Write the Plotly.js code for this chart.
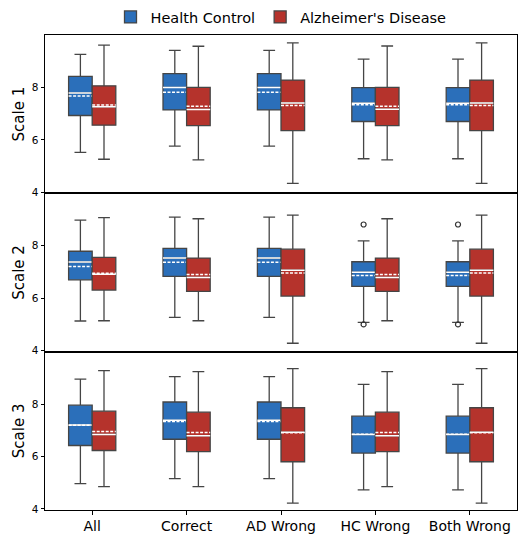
<!DOCTYPE html>
<html><head><meta charset="utf-8">
<script src="https://cdn.plot.ly/plotly-3.0.1.min.js"></script>
<style>html,body{margin:0;padding:0;background:#fff}#chart{width:518px;height:536px}</style>
</head><body><div id="chart"></div>
<script>
const categories = ['All', 'Correct', 'AD Wrong', 'HC Wrong', 'Both Wrong'];
const groupNames = ['Health Control', "Alzheimer's Disease"];
const scaleLabels = ['Scale 1', 'Scale 2', 'Scale 3'];

// Scale 1
const hc1_lower = [5.52, 5.76, 5.76, 5.28, 5.28];
const hc1_q1    = [6.93, 7.14, 7.14, 6.70, 6.70];
const hc1_med   = [7.79, 8.00, 8.00, 7.40, 7.40];
const hc1_q3    = [8.42, 8.53, 8.53, 7.99, 7.99];
const hc1_upper = [9.26, 9.41, 9.41, 9.08, 9.08];
const hc1_mean  = [7.67, 7.82, 7.82, 7.34, 7.34];
const ad1_lower = [5.26, 5.24, 4.34, 5.24, 4.34];
const ad1_q1    = [6.56, 6.54, 6.35, 6.54, 6.35];
const ad1_med   = [7.26, 7.16, 7.41, 7.17, 7.41];
const ad1_q3    = [8.06, 8.00, 8.28, 8.00, 8.28];
const ad1_upper = [9.61, 9.57, 9.70, 9.58, 9.70];
const ad1_mean  = [7.33, 7.28, 7.31, 7.28, 7.31];

// Scale 2
const hc2_lower = [5.13, 5.27, 5.27, 5.08, 5.08];
const hc2_q1    = [6.70, 6.83, 6.83, 6.45, 6.45];
const hc2_med   = [7.38, 7.53, 7.53, 6.99, 6.99];
const hc2_q3    = [7.79, 7.90, 7.90, 7.39, 7.39];
const hc2_upper = [8.98, 9.09, 9.09, 8.19, 8.19];
const hc2_mean  = [7.21, 7.37, 7.37, 6.87, 6.87];
const ad2_lower = [5.14, 5.14, 4.28, 5.14, 4.28];
const ad2_q1    = [6.31, 6.26, 6.08, 6.26, 6.08];
const ad2_med   = [6.91, 6.79, 7.07, 6.79, 7.07];
const ad2_q3    = [7.56, 7.53, 7.87, 7.53, 7.87];
const ad2_upper = [9.07, 9.03, 9.17, 9.03, 9.17];
const ad2_mean  = [6.95, 6.90, 6.96, 6.90, 6.96];
const hc2_outlier_cat = ['HC Wrong', 'HC Wrong', 'Both Wrong', 'Both Wrong'];
const hc2_outlier_val = [8.81, 5.00, 8.81, 5.00];

// Scale 3
const hc3_lower = [4.97, 5.16, 5.16, 4.73, 4.73];
const hc3_q1    = [6.42, 6.66, 6.66, 6.13, 6.13];
const hc3_med   = [7.20, 7.38, 7.38, 6.84, 6.84];
const hc3_q3    = [7.96, 8.08, 8.08, 7.54, 7.54];
const hc3_upper = [8.95, 9.05, 9.05, 8.75, 8.75];
const hc3_mean  = [7.19, 7.34, 7.34, 6.85, 6.85];
const ad3_lower = [4.85, 4.85, 4.22, 4.85, 4.22];
const ad3_q1    = [6.23, 6.19, 5.80, 6.19, 5.80];
const ad3_med   = [6.84, 6.79, 6.93, 6.79, 6.93];
const ad3_q3    = [7.73, 7.69, 7.86, 7.69, 7.86];
const ad3_upper = [9.28, 9.24, 9.35, 9.24, 9.35];
const ad3_mean  = [6.95, 6.92, 6.91, 6.92, 6.91];

const colors = ['#2b6fba', '#b5332c'];
const edge = '#454545';

const stats = [
  [[hc1_lower, hc1_q1, hc1_med, hc1_q3, hc1_upper, hc1_mean], [ad1_lower, ad1_q1, ad1_med, ad1_q3, ad1_upper, ad1_mean]],
  [[hc2_lower, hc2_q1, hc2_med, hc2_q3, hc2_upper, hc2_mean], [ad2_lower, ad2_q1, ad2_med, ad2_q3, ad2_upper, ad2_mean]],
  [[hc3_lower, hc3_q1, hc3_med, hc3_q3, hc3_upper, hc3_mean], [ad3_lower, ad3_q1, ad3_med, ad3_q3, ad3_upper, ad3_mean]]
];
const groupKeys = ['hc', 'ad'];

const traces = [];
stats.forEach((sc, si) => {
  const xa = si === 0 ? 'x' : 'x' + (si + 1);
  const ya = si === 0 ? 'y' : 'y' + (si + 1);
  sc.forEach((g, gi) => {
    const [lo, q1, med, q3, up, mn] = g;
    traces.push({
      type: 'box', name: groupNames[gi], legendgroup: groupKeys[gi], showlegend: si === 0,
      x: categories, q1: q1, median: med, q3: q3, lowerfence: lo, upperfence: up,
      xaxis: xa, yaxis: ya, offsetgroup: groupKeys[gi], alignmentgroup: 'a',
      fillcolor: colors[gi], line: {color: edge, width: 1.3}, whiskerwidth: 0.5,
      boxpoints: false, hoverinfo: 'skip'
    });
    // white median (solid) and mean (dashed) overlay
    traces.push({
      type: 'box', name: groupNames[gi] + ' centre', legendgroup: groupKeys[gi], showlegend: false,
      x: categories, q1: med, median: med, q3: med, lowerfence: med, upperfence: med, mean: mn,
      boxmean: true,
      xaxis: xa, yaxis: ya, offsetgroup: groupKeys[gi], alignmentgroup: 'a',
      fillcolor: 'rgba(0,0,0,0)', line: {color: '#ffffff', width: 1.5}, whiskerwidth: 0,
      boxpoints: false, hoverinfo: 'skip'
    });
  });
});
// outliers (scale 2, Health Control)
traces.push({
  type: 'scatter', mode: 'markers', x: hc2_outlier_cat, y: hc2_outlier_val,
  xaxis: 'x2', yaxis: 'y2', offsetgroup: 'hc', alignmentgroup: 'a', showlegend: false,
  marker: {symbol: 'circle-open', size: 5, color: '#333', line: {width: 1.2, color: '#333'}},
  hoverinfo: 'skip'
});
traces.push({
  type: 'scatter', mode: 'markers', x: ['All'], y: [null],
  xaxis: 'x2', yaxis: 'y2', offsetgroup: 'ad', alignmentgroup: 'a', showlegend: false,
  marker: {size: 1}, hoverinfo: 'skip'
});

const yr = [3.96, 10.0];
const font = {family: 'DejaVu Sans, sans-serif', color: '#000'};
function yax(i, dom) {
  return {
    domain: dom, range: yr, anchor: i === 1 ? 'x' : 'x' + i,
    tickvals: [4, 6, 8], ticks: 'outside', ticklen: 3.5, tickwidth: 1, tickcolor: '#000',
    tickfont: {size: 10.5, color: '#000'}, showgrid: false, zeroline: false,
    showline: true, mirror: true, linecolor: '#000', linewidth: 1,
    title: {text: scaleLabels[i - 1], font: {size: 15, color: '#000'}, standoff: 3}
  };
}
function xax(i, show) {
  return {
    domain: [0, 1], anchor: i === 1 ? 'y' : 'y' + i, type: 'category',
    categoryorder: 'array', categoryarray: categories, range: [-0.5, 4.5],
    matches: i === 1 ? undefined : 'x',
    showticklabels: show, ticks: show ? 'outside' : '', ticklen: 3.5, tickcolor: '#000',
    tickfont: {size: 14, color: '#000'}, showgrid: false, zeroline: false,
    showline: true, mirror: true, linecolor: '#000', linewidth: 1
  };
}
const layout = {
  width: 518, height: 536,
  margin: {l: 45, r: 1, t: 35, b: 26},
  paper_bgcolor: '#fff', plot_bgcolor: '#fff',
  font: font,
  boxmode: 'group', boxgap: 0.5, boxgroupgap: 0,
  scattermode: 'group', scattergap: 0.5,
  showlegend: true,
  legend: {orientation: 'h', x: 0.5, xanchor: 'center', y: 1.038, yanchor: 'middle',
           bgcolor: 'rgba(0,0,0,0)', font: {size: 14.5, color: '#000'}, itemwidth: 30, tracegroupgap: 0},
  xaxis: xax(1, false), xaxis2: xax(2, false), xaxis3: xax(3, true),
  yaxis: yax(1, [2/3, 1]), yaxis2: yax(2, [1/3, 2/3]), yaxis3: yax(3, [0, 1/3])
};
Plotly.newPlot('chart', traces, layout, {displayModeBar: false, staticPlot: true});
</script>
</body></html>
